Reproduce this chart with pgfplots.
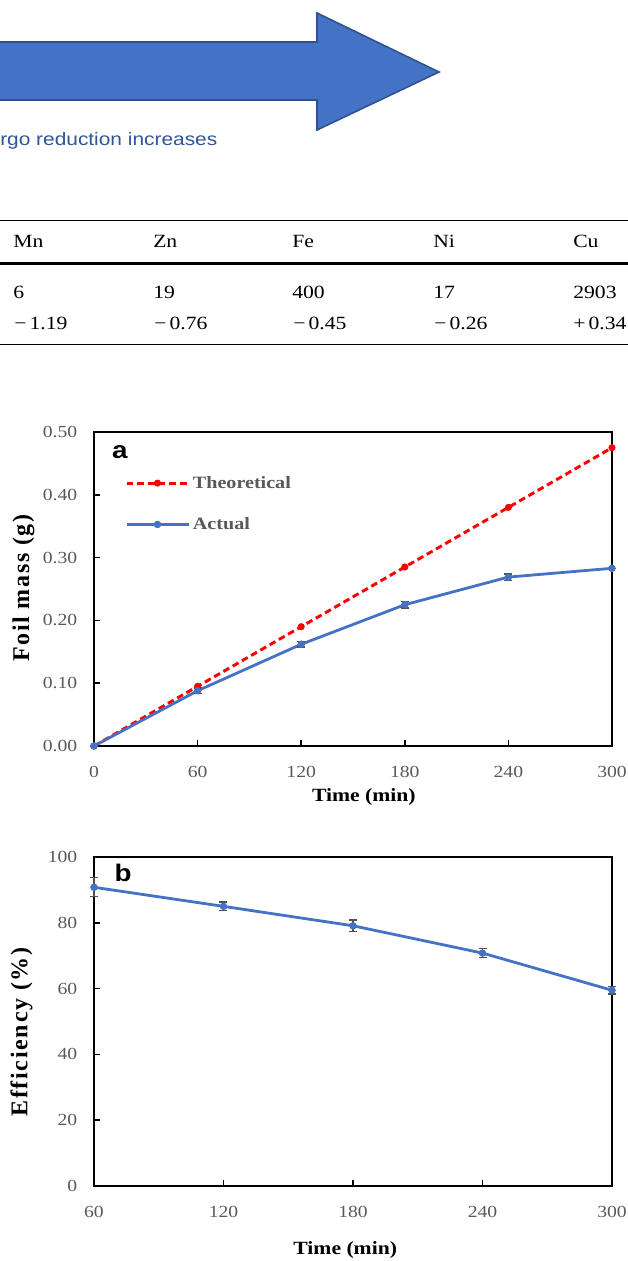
\documentclass[border=0pt]{standalone}
\usepackage{fontspec}
\setmainfont{Liberation Serif}[FakeStretch=1.16]
\newfontfamily\sansfont{Liberation Sans}[FakeStretch=1.16]
\newfontfamily\ylabfont{Liberation Serif}[LetterSpace=7]
\usepackage{pgfplots}
\pgfplotsset{compat=1.18}

\definecolor{arrowblue}{RGB}{68,114,196}
\definecolor{arrowedge}{RGB}{47,82,143}
\definecolor{capblue}{RGB}{47,85,151}
\definecolor{lineblue}{RGB}{68,114,196}
\definecolor{ticktext}{RGB}{89,89,89}
\definecolor{errgray}{RGB}{80,80,80}

% shared look of the two panels
\pgfplotsset{
  panel/.style={
    scale only axis, anchor=south west, width=388.5pt,
    clip=false,
    axis line style={line width=1.5pt, black},
    tick align=inside, tick pos=left,
    major tick length=4.5pt,
    major tick style={line width=1.2pt, black},
    /pgf/number format/assume math mode=true,
    tick label style={font=\fontsize{12.7}{14}\selectfont, text=ticktext},
    xticklabel style={yshift=-12pt},
    yticklabel style={xshift=-9pt},
    xlabel style={font=\fontsize{14}{16}\selectfont\bfseries, anchor=center},
    ylabel style={font=\ylabfont\fontsize{18}{20}\selectfont\bfseries, anchor=center},
  },
  actual/.style={lineblue, line width=2.1pt, mark=*, mark size=1.7pt,
    mark options={fill=lineblue},
    error bars/.cd, y dir=both, y explicit,
    error bar style={line width=1pt, errgray},
    error mark options={rotate=90, mark size=3pt, line width=1pt, errgray}},
}

\begin{document}
\begin{tikzpicture}
\useasboundingbox (0,0) rectangle (471pt,-945.75pt);
\clip (0,0) rectangle (471pt,-945.75pt);

% top part: arrow, caption, table (pixel units, y down)
\begin{scope}[x=0.75pt, y=-0.75pt]
\filldraw[fill=arrowblue, draw=arrowedge, line width=1.2pt]
  (-5,42) -- (317,42) -- (317,13) -- (439,72) -- (317,130) -- (317,100) -- (-5,100) -- cycle;
\node[anchor=base west, inner sep=0pt, text=capblue, font=\sansfont\fontsize{13.5}{16}\selectfont]
  at (0,145.5) {rgo reduction increases};

\draw[line width=1.1pt] (0,220.5) -- (640,220.5);
\draw[line width=2.6pt] (0,263.7) -- (640,263.7);
\draw[line width=1.1pt] (0,344.5) -- (640,344.5);
\begin{scope}[every node/.style={anchor=base west, inner sep=0pt, font=\fontsize{14}{16}\selectfont}]
\node at (13,247) {Mn};   \node at (153,247) {Zn};  \node at (292,247) {Fe};
\node at (433,247) {Ni};  \node at (573,247) {Cu};
\node at (13,298) {6};    \node at (153,298) {19};  \node at (292,298) {400};
\node at (433,298) {17};  \node at (573,298) {2903};
\node at (14,329.5) {−\,1.19}; \node at (154,329.5) {−\,0.76}; \node at (293,329.5) {−\,0.45};
\node at (434,329.5) {−\,0.26}; \node at (573,329.5) {+\,0.34};
\end{scope}
\end{scope}

% panel a
\begin{axis}[panel,
  at={(70.5pt,-559.5pt)}, height=235.5pt,
  xmin=0, xmax=300, ymin=0, ymax=0.5,
  xtick={0,60,120,180,240,300},
  ytick={0,0.1,0.2,0.3,0.4,0.5},
  yticklabel style={/pgf/number format/.cd, fixed, fixed zerofill, precision=2},
  xlabel={Time (min)},
  ylabel={Foil mass (g)},
  xlabel style={at={(axis description cs:0.521,-0.162)}},
  ylabel style={at={(axis description cs:-0.136,0.503)}},
  legend style={at={(axis description cs:0.06,0.869)}, anchor=north west,
    draw=none, fill=none, inner sep=0pt, row sep=16.5pt,
    font=\fontsize{13}{15}\selectfont\bfseries, text=ticktext,
    nodes={inner sep=2pt}},
  legend cell align=left,
  legend image code/.code={\draw[mark repeat=2, mark phase=2, #1]
    plot coordinates {(0pt,0pt) (23pt,0pt) (46.5pt,0pt)};},
]
\addplot[red, line width=2.2pt, dash pattern=on 5pt off 3pt,
  mark=*, mark size=1.5pt, mark options={solid, fill=red}]
  coordinates {(0,0) (60,0.095) (120,0.19) (180,0.285) (240,0.38) (300,0.475)};
\addlegendentry{Theoretical}
\addplot[actual]
  coordinates {
    (0,0) +- (0,0)
    (60,0.088) +- (0,0.0045)
    (120,0.162) +- (0,0.0045)
    (180,0.225) +- (0,0.005)
    (240,0.269) +- (0,0.005)
    (300,0.283) +- (0,0)
  };
\addlegendentry{Actual}
\node[font=\sansfont\fontsize{18}{20}\selectfont\bfseries] at (axis description cs:0.05,0.936) {a};
\end{axis}

% panel b
\begin{axis}[panel,
  at={(70.5pt,-889.5pt)}, height=246.75pt,
  xmin=60, xmax=300, ymin=0, ymax=100,
  xtick={60,120,180,240,300},
  ytick={0,20,40,60,80,100},
  xlabel={Time (min)},
  ylabel={Efficiency (\%)},
  xlabel style={at={(axis description cs:0.485,-0.195)}},
  ylabel style={at={(axis description cs:-0.140,0.468)}},
]
\addplot[actual]
  coordinates {
    (60,90.8) +- (0,2.9)
    (120,85.0) +- (0,1.3)
    (180,79.1) +- (0,1.8)
    (240,70.8) +- (0,1.3)
    (300,59.5) +- (0,1.1)
  };
\node[font=\sansfont\fontsize{18}{20}\selectfont\bfseries] at (axis description cs:0.056,0.951) {b};
\end{axis}
\end{tikzpicture}
\end{document}
